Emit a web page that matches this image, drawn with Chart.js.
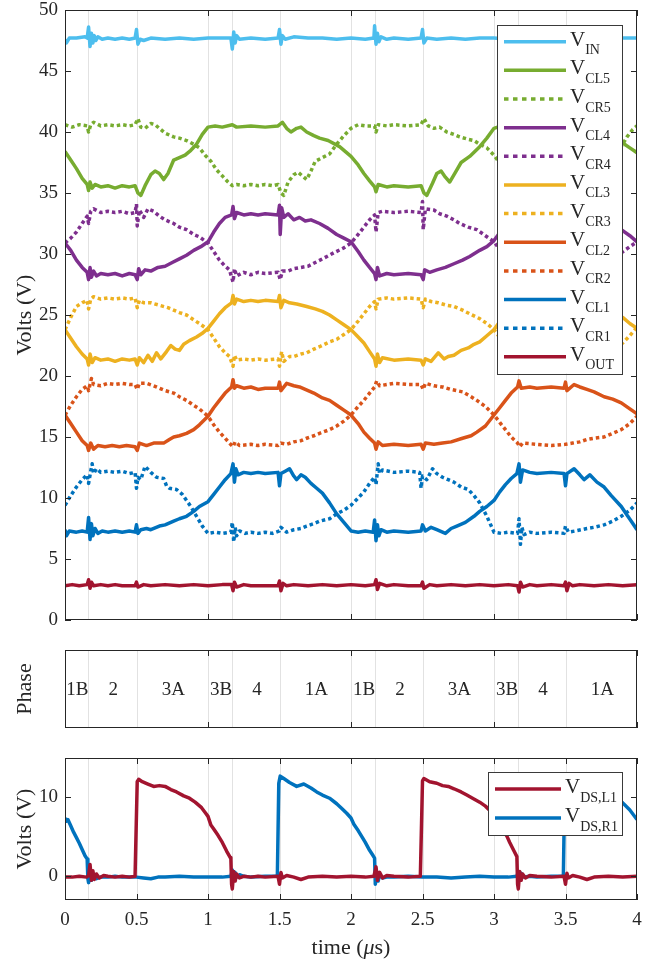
<!DOCTYPE html>
<html lang="en">
<head>
    <meta charset="UTF-8">
    <title>Capacitor voltages, phases and switch voltages</title>
    <style>
        body { margin: 0; background: #fff; }
        .wrap { position: relative; width: 645px; height: 959px; }
        .wrap canvas { position: absolute; left: 0; }
        #topChart { top: 0; }
        #phaseChart { top: 640px; }
        #dsChart { top: 750px; }
    </style>
    <script src="https://cdn.jsdelivr.net/npm/chart.js"></script>
</head>
<body>
<div class="wrap">
    <canvas id="topChart" width="645" height="640"></canvas>
    <canvas id="phaseChart" width="645" height="100"></canvas>
    <canvas id="dsChart" width="645" height="209"></canvas>
</div>
<script>
// ---- axes / phases ----
const timeTicks = [0, 0.5, 1, 1.5, 2, 2.5, 3, 3.5, 4];
const timeMajor = [0, 1, 2, 3, 4];
const voltTicks = [0, 5, 10, 15, 20, 25, 30, 35, 40, 45, 50];
const dsTicks = [0, 10];
const phaseEdges = [0, 0.16, 0.5, 1.0, 1.17, 1.5, 2.0, 2.17, 2.5, 3.0, 3.17, 3.5, 4];
const phaseNames = ['1B', '2', '3A', '3B', '4', '1A', '1B', '2', '3A', '3B', '4', '1A'];

// ---- traces, [time (us), volts] ----
const vIn = [[0,47.6],[0.01,47.3],[0.03,47.7],[0.08,47.7],[0.14,47.8],[0.155,47.7],[0.165,48.6],[0.175,47.0],[0.185,48.1],[0.195,47.3],[0.205,47.9],[0.215,47.5],[0.23,47.8],[0.26,47.6],[0.3,47.7],[0.35,47.6],[0.4,47.7],[0.45,47.6],[0.49,47.7],[0.5,48.4],[0.51,47.2],[0.525,47.6],[0.55,47.5],[0.6,47.7],[0.7,47.6],[0.8,47.7],[0.9,47.6],[1.0,47.7],[1.1,47.7],[1.16,47.7],[1.17,46.8],[1.18,48.2],[1.19,47.3],[1.2,47.9],[1.22,47.6],[1.3,47.7],[1.4,47.6],[1.49,47.7],[1.5,48.4],[1.51,47.2],[1.52,47.9],[1.54,47.6],[1.6,47.8],[1.7,47.7],[1.8,47.7],[1.9,47.6],[2.0,47.7],[2.1,47.6],[2.16,47.7],[2.165,48.7],[2.175,47.2],[2.185,48.1],[2.195,47.4],[2.21,47.8],[2.25,47.6],[2.3,47.7],[2.4,47.6],[2.49,47.7],[2.5,48.4],[2.51,47.3],[2.53,47.7],[2.6,47.6],[2.7,47.7],[2.8,47.6],[2.9,47.7],[3.0,47.7],[3.1,47.6],[3.16,47.7],[3.17,46.9],[3.18,48.2],[3.19,47.4],[3.21,47.7],[3.3,47.6],[3.4,47.7],[3.49,47.7],[3.5,48.3],[3.51,47.3],[3.53,47.8],[3.6,47.6],[3.7,47.7],[3.8,47.6],[3.9,47.7],[4.0,47.7]];

const vCL5 = [[0,38.4],[0.04,37.7],[0.08,37.0],[0.12,36.2],[0.155,35.7],[0.165,35.2],[0.175,35.9],[0.19,35.4],[0.21,35.7],[0.25,35.5],[0.3,35.6],[0.35,35.4],[0.4,35.6],[0.45,35.5],[0.49,35.6],[0.51,35.0],[0.53,34.8],[0.56,35.6],[0.6,36.5],[0.63,36.8],[0.66,36.6],[0.69,36.1],[0.72,36.6],[0.76,37.7],[0.8,37.9],[0.84,38.1],[0.88,38.5],[0.92,39.0],[0.96,39.8],[1.0,40.4],[1.05,40.5],[1.1,40.4],[1.17,40.6],[1.2,40.4],[1.3,40.5],[1.4,40.4],[1.49,40.5],[1.52,40.8],[1.55,40.3],[1.58,40.0],[1.62,40.3],[1.65,40.4],[1.69,40.0],[1.74,39.7],[1.78,39.5],[1.84,39.3],[1.92,38.8],[2.0,38.0],[2.05,37.3],[2.09,36.6],[2.13,36.0],[2.165,35.5],[2.175,35.1],[2.19,35.7],[2.25,35.5],[2.3,35.6],[2.4,35.5],[2.49,35.6],[2.51,35.0],[2.53,34.8],[2.57,35.8],[2.6,36.6],[2.63,36.8],[2.66,36.3],[2.69,35.9],[2.73,36.7],[2.77,37.5],[2.83,38.0],[2.9,38.8],[2.95,39.5],[3.0,40.3],[3.05,40.5],[3.1,40.5],[3.2,40.5],[3.3,40.4],[3.4,40.5],[3.5,40.6],[3.55,40.2],[3.6,40.2],[3.65,40.4],[3.7,40.0],[3.78,39.6],[3.85,39.3],[3.9,39.1],[3.95,38.7],[4.0,38.3]];
const vCR5 = [[0,40.6],[0.05,40.4],[0.1,40.6],[0.155,40.5],[0.165,40.0],[0.18,40.6],[0.2,40.8],[0.25,40.5],[0.3,40.6],[0.35,40.5],[0.4,40.6],[0.45,40.5],[0.49,40.6],[0.51,41.1],[0.53,40.4],[0.56,40.3],[0.6,40.7],[0.63,40.6],[0.66,40.3],[0.7,39.9],[0.76,39.6],[0.8,39.5],[0.85,39.3],[0.9,39.0],[0.94,38.7],[0.98,38.1],[1.02,37.6],[1.06,36.9],[1.1,36.4],[1.14,35.9],[1.17,35.6],[1.2,35.7],[1.25,35.6],[1.3,35.7],[1.35,35.6],[1.4,35.7],[1.45,35.6],[1.49,35.7],[1.51,35.0],[1.53,34.8],[1.56,35.9],[1.6,36.5],[1.63,36.7],[1.66,36.4],[1.69,36.1],[1.72,36.8],[1.75,37.6],[1.8,37.9],[1.85,38.2],[1.9,39.0],[1.95,39.7],[2.0,40.3],[2.05,40.6],[2.1,40.5],[2.165,40.5],[2.175,40.0],[2.19,40.6],[2.25,40.5],[2.3,40.6],[2.4,40.5],[2.49,40.6],[2.51,41.1],[2.54,40.5],[2.58,40.3],[2.62,40.4],[2.67,40.0],[2.72,39.8],[2.76,39.6],[2.82,39.4],[2.86,39.3],[2.9,39.0],[2.95,38.7],[3.0,38.1],[3.05,37.3],[3.1,36.6],[3.15,35.9],[3.17,35.6],[3.25,35.6],[3.35,35.7],[3.45,35.6],[3.5,35.5],[3.53,34.9],[3.57,35.9],[3.62,36.6],[3.67,36.2],[3.72,36.8],[3.77,37.6],[3.83,38.0],[3.88,38.6],[3.93,39.6],[3.97,40.2],[4.0,40.5]];

const vCL4 = [[0,30.9],[0.04,30.3],[0.08,29.5],[0.12,28.9],[0.155,28.5],[0.165,27.9],[0.175,28.9],[0.185,28.1],[0.2,28.6],[0.22,28.2],[0.25,28.4],[0.3,28.3],[0.35,28.4],[0.4,28.2],[0.45,28.4],[0.49,28.3],[0.505,27.9],[0.515,28.8],[0.53,28.3],[0.56,28.7],[0.6,28.6],[0.65,28.9],[0.7,29.0],[0.75,29.3],[0.8,29.6],[0.85,29.9],[0.9,30.3],[0.95,30.6],[1.0,31.0],[1.04,31.8],[1.08,32.5],[1.12,33.0],[1.165,33.2],[1.175,33.9],[1.185,32.9],[1.2,33.4],[1.25,33.2],[1.3,33.3],[1.35,33.2],[1.4,33.3],[1.49,33.2],[1.5,34.0],[1.505,31.6],[1.515,33.8],[1.53,33.0],[1.56,33.3],[1.6,32.8],[1.64,33.0],[1.68,32.7],[1.72,32.8],[1.78,32.5],[1.84,32.1],[1.9,31.6],[1.95,31.3],[2.0,31.0],[2.05,30.2],[2.09,29.5],[2.13,28.9],[2.165,28.4],[2.175,27.9],[2.185,28.9],[2.2,28.2],[2.25,28.4],[2.3,28.3],[2.4,28.4],[2.49,28.3],[2.505,27.9],[2.515,28.7],[2.55,28.5],[2.6,28.7],[2.66,28.9],[2.72,29.2],[2.78,29.5],[2.83,29.8],[2.9,30.3],[2.95,30.6],[3.0,31.1],[3.05,31.9],[3.1,32.6],[3.15,33.1],[3.2,33.3],[3.3,33.2],[3.4,33.3],[3.5,33.3],[3.55,33.0],[3.6,33.1],[3.7,32.8],[3.8,32.5],[3.89,32.0],[3.95,31.5],[4.0,31.0]];
const vCR4 = [[0,30.9],[0.04,31.3],[0.08,31.8],[0.12,32.5],[0.155,33.1],[0.165,32.5],[0.18,33.5],[0.2,33.7],[0.25,33.4],[0.3,33.5],[0.35,33.4],[0.4,33.5],[0.45,33.3],[0.49,33.4],[0.5,34.1],[0.505,32.3],[0.52,33.6],[0.55,33.0],[0.58,33.7],[0.62,33.5],[0.66,33.1],[0.7,32.8],[0.76,32.5],[0.8,32.2],[0.85,32.0],[0.9,31.6],[0.94,31.4],[1.0,30.9],[1.04,30.2],[1.08,29.5],[1.12,29.0],[1.15,28.7],[1.175,27.7],[1.185,28.8],[1.2,28.2],[1.25,28.5],[1.3,28.3],[1.35,28.5],[1.4,28.4],[1.49,28.5],[1.505,27.9],[1.52,28.6],[1.56,28.6],[1.6,28.8],[1.65,28.9],[1.7,29.0],[1.75,29.3],[1.8,29.6],[1.88,30.1],[1.95,30.5],[2.0,30.9],[2.05,31.6],[2.09,32.2],[2.13,32.8],[2.165,33.2],[2.175,31.8],[2.19,33.4],[2.22,33.5],[2.3,33.4],[2.4,33.5],[2.49,33.4],[2.5,34.3],[2.505,32.0],[2.52,33.7],[2.58,33.6],[2.62,33.3],[2.67,33.1],[2.72,32.8],[2.76,32.5],[2.82,32.2],[2.88,32.0],[2.94,31.5],[3.0,31.0],[3.05,30.2],[3.1,29.4],[3.15,28.8],[3.2,28.4],[3.3,28.5],[3.4,28.4],[3.5,28.5],[3.55,28.6],[3.65,28.9],[3.75,29.4],[3.85,29.9],[3.89,30.1],[3.95,30.6],[4.0,31.0]];

const vCL3 = [[0,23.8],[0.04,23.1],[0.08,22.4],[0.12,21.8],[0.155,21.4],[0.165,20.9],[0.175,21.8],[0.19,21.1],[0.21,21.5],[0.25,21.3],[0.3,21.4],[0.35,21.2],[0.4,21.4],[0.45,21.3],[0.49,21.4],[0.505,20.9],[0.52,21.5],[0.55,21.1],[0.58,21.7],[0.61,21.2],[0.64,21.9],[0.67,21.4],[0.71,22.0],[0.74,22.5],[0.77,22.2],[0.8,22.1],[0.83,22.6],[0.87,22.9],[0.92,23.2],[0.96,23.5],[1.0,23.9],[1.04,24.5],[1.08,25.1],[1.12,25.6],[1.165,26.0],[1.175,26.6],[1.185,25.9],[1.2,26.3],[1.25,26.1],[1.3,26.2],[1.35,26.1],[1.4,26.2],[1.49,26.1],[1.5,26.6],[1.51,25.6],[1.53,26.2],[1.57,26.0],[1.62,25.9],[1.69,25.7],[1.75,25.5],[1.8,25.3],[1.85,25.0],[1.9,24.6],[1.95,24.2],[2.0,23.8],[2.05,23.2],[2.09,22.7],[2.13,22.0],[2.165,21.4],[2.175,20.8],[2.185,21.8],[2.2,21.1],[2.22,21.5],[2.3,21.3],[2.4,21.4],[2.49,21.3],[2.505,20.9],[2.52,21.4],[2.56,21.2],[2.61,21.9],[2.65,21.4],[2.68,21.6],[2.72,21.7],[2.77,22.1],[2.82,22.3],[2.86,22.6],[2.9,22.8],[2.95,23.3],[3.0,23.8],[3.05,24.6],[3.1,25.3],[3.15,25.8],[3.2,26.2],[3.3,26.1],[3.4,26.2],[3.5,26.1],[3.6,26.0],[3.7,25.6],[3.8,25.2],[3.9,24.8],[3.95,24.3],[4.0,23.9]];
const vCR3 = [[0,23.8],[0.04,24.8],[0.08,25.7],[0.12,26.0],[0.155,26.2],[0.165,25.5],[0.18,26.3],[0.2,26.5],[0.25,26.3],[0.3,26.4],[0.35,26.3],[0.4,26.4],[0.45,26.3],[0.49,26.4],[0.505,25.6],[0.52,26.2],[0.55,26.0],[0.6,26.0],[0.66,25.8],[0.72,25.6],[0.76,25.4],[0.8,25.2],[0.85,25.0],[0.9,24.6],[0.94,24.3],[1.0,23.8],[1.04,23.1],[1.08,22.4],[1.12,21.9],[1.15,21.6],[1.175,20.8],[1.185,21.7],[1.2,21.3],[1.25,21.4],[1.3,21.3],[1.35,21.4],[1.4,21.3],[1.49,21.4],[1.5,20.8],[1.515,22.0],[1.53,21.2],[1.57,21.6],[1.6,21.6],[1.65,21.8],[1.69,21.9],[1.74,22.2],[1.78,22.4],[1.85,22.8],[1.9,23.0],[1.95,23.4],[2.0,23.8],[2.05,24.5],[2.09,25.1],[2.13,25.7],[2.165,26.1],[2.175,25.5],[2.19,26.3],[2.25,26.4],[2.3,26.3],[2.4,26.4],[2.49,26.3],[2.505,25.6],[2.52,26.3],[2.56,26.1],[2.61,26.0],[2.67,25.8],[2.72,25.7],[2.78,25.4],[2.83,25.1],[2.9,24.7],[2.95,24.3],[3.0,23.8],[3.05,23.0],[3.1,22.3],[3.15,21.7],[3.2,21.3],[3.3,21.4],[3.4,21.3],[3.5,21.4],[3.55,21.5],[3.65,21.8],[3.75,22.2],[3.85,22.5],[3.9,22.7],[3.95,23.3],[4.0,24.0]];

const vCL2 = [[0,16.8],[0.04,16.1],[0.08,15.4],[0.12,14.7],[0.155,14.3],[0.165,13.9],[0.18,14.5],[0.2,14.0],[0.23,14.3],[0.28,14.2],[0.33,14.3],[0.38,14.2],[0.43,14.3],[0.49,14.2],[0.505,13.9],[0.52,14.5],[0.57,14.3],[0.62,14.5],[0.69,14.5],[0.73,14.8],[0.76,15.0],[0.8,15.1],[0.85,15.3],[0.9,15.6],[0.94,16.0],[1.0,16.7],[1.04,17.4],[1.08,18.0],[1.12,18.6],[1.165,19.1],[1.175,19.7],[1.185,19.0],[1.2,19.2],[1.25,19.0],[1.3,19.1],[1.35,18.9],[1.4,19.0],[1.49,19.0],[1.5,19.5],[1.51,18.8],[1.55,19.4],[1.6,19.2],[1.64,19.1],[1.7,18.8],[1.74,18.6],[1.8,18.2],[1.85,18.0],[1.9,17.6],[1.95,17.2],[2.0,16.8],[2.05,16.1],[2.09,15.4],[2.13,14.9],[2.165,14.5],[2.175,14.0],[2.19,14.6],[2.22,14.3],[2.3,14.4],[2.4,14.3],[2.49,14.4],[2.505,14.0],[2.52,14.5],[2.58,14.4],[2.64,14.5],[2.7,14.6],[2.78,14.9],[2.84,15.1],[2.88,15.4],[2.94,15.9],[3.0,16.8],[3.04,17.4],[3.08,18.0],[3.12,18.6],[3.165,19.1],[3.175,19.6],[3.19,19.0],[3.25,19.1],[3.3,19.0],[3.4,19.1],[3.49,19.0],[3.5,19.5],[3.51,18.8],[3.56,19.3],[3.6,19.1],[3.65,18.9],[3.7,18.7],[3.77,18.3],[3.83,18.1],[3.89,17.8],[3.95,17.3],[4.0,16.9]];
const vCR2 = [[0,16.8],[0.04,17.6],[0.08,18.3],[0.12,18.9],[0.155,19.2],[0.165,18.8],[0.185,19.8],[0.2,19.3],[0.25,19.2],[0.3,19.4],[0.35,19.3],[0.4,19.4],[0.45,19.3],[0.49,19.3],[0.505,18.9],[0.52,19.4],[0.57,19.4],[0.62,19.2],[0.66,19.0],[0.7,18.8],[0.76,18.6],[0.8,18.3],[0.85,18.0],[0.9,17.6],[0.94,17.3],[1.0,16.7],[1.04,16.0],[1.08,15.4],[1.12,14.9],[1.15,14.5],[1.175,14.2],[1.19,14.6],[1.22,14.3],[1.3,14.4],[1.35,14.3],[1.4,14.4],[1.49,14.3],[1.51,14.5],[1.55,14.4],[1.6,14.6],[1.65,14.7],[1.69,14.9],[1.74,15.1],[1.78,15.3],[1.85,15.6],[1.9,15.9],[1.95,16.3],[2.0,16.8],[2.05,17.5],[2.09,18.0],[2.13,18.6],[2.165,19.1],[2.18,19.6],[2.2,19.2],[2.25,19.3],[2.3,19.4],[2.4,19.3],[2.49,19.3],[2.505,18.9],[2.52,19.4],[2.58,19.2],[2.64,19.1],[2.7,18.9],[2.78,18.7],[2.84,18.3],[2.88,18.0],[2.94,17.5],[3.0,16.8],[3.04,16.2],[3.08,15.6],[3.12,15.0],[3.165,14.5],[3.18,14.2],[3.2,14.5],[3.3,14.4],[3.4,14.3],[3.5,14.4],[3.55,14.5],[3.6,14.6],[3.65,14.8],[3.7,14.9],[3.77,15.0],[3.83,15.3],[3.89,15.6],[3.95,16.1],[4.0,16.7]];

const vCL1 = [[0,7.4],[0.01,6.9],[0.03,7.3],[0.08,7.2],[0.12,7.3],[0.155,7.2],[0.165,8.4],[0.175,6.6],[0.185,7.9],[0.195,6.9],[0.21,7.5],[0.23,7.1],[0.26,7.3],[0.3,7.2],[0.35,7.3],[0.4,7.2],[0.45,7.3],[0.49,7.2],[0.5,7.8],[0.51,7.1],[0.53,7.4],[0.57,7.5],[0.6,7.4],[0.66,7.7],[0.7,7.8],[0.76,8.1],[0.8,8.3],[0.85,8.5],[0.9,8.9],[0.94,9.3],[1.0,9.7],[1.04,10.3],[1.08,10.9],[1.12,11.5],[1.16,12.0],[1.175,12.8],[1.185,11.3],[1.195,12.4],[1.21,11.9],[1.25,12.1],[1.3,12.0],[1.35,12.1],[1.4,12.0],[1.49,12.1],[1.5,11.0],[1.51,12.0],[1.54,12.2],[1.57,12.4],[1.6,11.8],[1.62,11.5],[1.65,11.9],[1.68,11.7],[1.72,11.2],[1.76,10.8],[1.8,10.4],[1.85,9.6],[1.9,8.7],[1.95,8.0],[2.0,7.3],[2.05,7.2],[2.1,7.3],[2.155,7.2],[2.165,8.2],[2.175,6.5],[2.185,7.8],[2.195,6.9],[2.21,7.4],[2.25,7.2],[2.3,7.3],[2.4,7.2],[2.49,7.3],[2.5,7.8],[2.52,7.3],[2.56,7.6],[2.6,7.4],[2.66,7.1],[2.7,7.5],[2.74,7.7],[2.8,8.0],[2.86,8.5],[2.9,8.9],[2.95,9.3],[3.0,9.8],[3.04,10.5],[3.08,11.1],[3.12,11.6],[3.16,12.0],[3.175,12.8],[3.185,11.3],[3.2,12.3],[3.25,12.1],[3.3,12.0],[3.4,12.1],[3.49,12.0],[3.5,11.0],[3.51,12.0],[3.56,12.4],[3.6,11.9],[3.63,11.5],[3.67,11.9],[3.72,11.3],[3.77,10.9],[3.82,10.2],[3.89,9.3],[3.93,8.6],[3.96,8.1],[4.0,7.4]];
const vCR1 = [[0,9.4],[0.04,10.2],[0.08,10.9],[0.12,11.5],[0.155,11.9],[0.165,11.2],[0.18,12.2],[0.19,12.8],[0.2,12.0],[0.22,12.4],[0.25,12.1],[0.3,12.2],[0.35,12.1],[0.4,12.2],[0.45,12.0],[0.49,12.1],[0.5,10.8],[0.51,11.7],[0.53,11.5],[0.56,12.6],[0.6,12.1],[0.64,11.7],[0.69,11.6],[0.71,11.0],[0.73,10.8],[0.78,10.7],[0.82,10.3],[0.85,9.8],[0.88,9.3],[0.92,8.5],[0.96,7.7],[1.0,7.1],[1.05,7.2],[1.1,7.1],[1.16,7.2],[1.17,8.0],[1.18,6.4],[1.19,7.6],[1.2,6.9],[1.22,7.3],[1.26,7.1],[1.3,7.2],[1.35,7.1],[1.4,7.2],[1.45,7.1],[1.5,7.3],[1.51,7.6],[1.55,7.2],[1.6,7.4],[1.65,7.5],[1.69,7.7],[1.74,7.9],[1.78,8.1],[1.85,8.3],[1.9,8.7],[1.95,9.0],[2.0,9.4],[2.05,10.0],[2.09,10.5],[2.13,11.2],[2.165,11.7],[2.175,11.1],[2.19,12.8],[2.2,12.0],[2.22,12.3],[2.3,12.1],[2.4,12.2],[2.48,12.1],[2.49,10.8],[2.5,11.8],[2.53,11.5],[2.57,12.4],[2.6,12.0],[2.64,11.7],[2.68,11.5],[2.72,11.3],[2.77,10.9],[2.82,10.7],[2.86,10.2],[2.9,9.6],[2.95,8.5],[3.0,7.2],[3.05,7.1],[3.1,7.2],[3.165,7.1],[3.175,8.3],[3.185,6.2],[3.195,7.6],[3.21,7.0],[3.25,7.2],[3.3,7.1],[3.4,7.2],[3.49,7.1],[3.5,7.7],[3.52,7.2],[3.57,7.3],[3.65,7.5],[3.7,7.6],[3.77,7.8],[3.83,8.1],[3.89,8.5],[3.95,9.0],[4.0,9.6]];

const vOut = [[0,2.8],[0.05,2.9],[0.1,2.8],[0.155,2.9],[0.165,3.3],[0.175,2.6],[0.185,3.1],[0.2,2.8],[0.25,2.9],[0.3,2.8],[0.35,2.9],[0.4,2.8],[0.49,2.8],[0.5,3.1],[0.51,2.7],[0.55,2.9],[0.6,2.8],[0.7,2.9],[0.8,2.8],[0.9,2.9],[1.0,2.8],[1.1,2.9],[1.165,2.9],[1.175,2.4],[1.185,3.1],[1.2,2.7],[1.25,2.9],[1.3,2.8],[1.4,2.8],[1.49,2.8],[1.5,3.2],[1.51,2.4],[1.525,3.0],[1.55,2.8],[1.6,2.9],[1.7,2.8],[1.8,2.9],[1.9,2.8],[2.0,2.9],[2.1,2.8],[2.165,2.9],[2.175,3.3],[2.185,2.5],[2.2,3.0],[2.25,2.8],[2.3,2.9],[2.4,2.8],[2.49,2.8],[2.5,3.1],[2.51,2.6],[2.55,2.9],[2.6,2.8],[2.7,2.9],[2.8,2.8],[2.9,2.9],[3.0,2.8],[3.1,2.9],[3.165,2.8],[3.175,2.3],[3.185,3.1],[3.2,2.7],[3.25,2.9],[3.3,2.8],[3.4,2.9],[3.49,2.8],[3.5,3.1],[3.51,2.4],[3.525,3.0],[3.55,2.8],[3.6,2.9],[3.7,2.8],[3.8,2.9],[3.9,2.8],[4.0,2.9]];

const vDsL1 = [[0,-0.1],[0.05,-0.1],[0.1,0.0],[0.15,-0.1],[0.165,0.1],[0.175,1.5],[0.185,-0.5],[0.195,0.7],[0.205,-0.4],[0.22,0.3],[0.24,-0.2],[0.27,0.1],[0.3,0.0],[0.35,-0.1],[0.4,0.0],[0.45,-0.1],[0.49,0.0],[0.505,12.0],[0.515,12.3],[0.54,12.0],[0.58,11.7],[0.62,11.4],[0.66,11.5],[0.7,11.4],[0.74,11.0],[0.78,10.7],[0.83,10.2],[0.87,9.9],[0.91,9.4],[0.955,8.7],[0.98,8.1],[1.0,7.6],[1.02,6.5],[1.04,6.0],[1.07,5.2],[1.1,4.3],[1.13,3.2],[1.155,2.4],[1.16,2.2],[1.165,-1.0],[1.17,-1.6],[1.18,0.6],[1.19,-0.6],[1.2,0.3],[1.22,-0.2],[1.25,0.0],[1.3,-0.1],[1.35,0.0],[1.4,-0.1],[1.49,0.0],[1.5,-1.0],[1.51,0.5],[1.52,-0.2],[1.55,0.1],[1.6,-0.1],[1.65,-0.4],[1.7,-0.1],[1.8,0.0],[1.9,-0.1],[2.0,0.0],[2.1,-0.1],[2.16,0.0],[2.175,1.2],[2.185,-0.5],[2.2,0.5],[2.22,-0.2],[2.25,0.1],[2.3,0.0],[2.4,-0.1],[2.485,0.0],[2.5,12.1],[2.51,12.4],[2.55,12.0],[2.6,11.8],[2.64,11.5],[2.68,11.4],[2.72,11.1],[2.77,10.7],[2.81,10.3],[2.85,9.9],[2.9,9.4],[2.94,8.9],[2.98,8.2],[3.01,7.6],[3.04,6.6],[3.06,6.0],[3.09,5.1],[3.11,4.3],[3.14,3.2],[3.16,2.5],[3.165,-1.0],[3.17,-1.6],[3.18,0.6],[3.19,-0.5],[3.2,0.3],[3.22,-0.2],[3.25,0.1],[3.3,0.0],[3.4,-0.1],[3.49,0.0],[3.5,-1.0],[3.51,0.4],[3.52,-0.2],[3.55,0.1],[3.6,-0.1],[3.65,-0.4],[3.7,-0.1],[3.8,0.0],[3.9,-0.1],[4.0,0.0]];
const vDsR1 = [[0,7.4],[0.01,7.0],[0.02,7.2],[0.04,6.4],[0.06,5.6],[0.08,4.9],[0.1,4.2],[0.12,3.4],[0.14,2.6],[0.155,2.2],[0.16,-0.3],[0.165,-0.8],[0.175,0.3],[0.185,-0.5],[0.2,0.1],[0.22,-0.3],[0.25,-0.1],[0.3,-0.1],[0.35,0.0],[0.4,-0.1],[0.45,-0.1],[0.5,-0.1],[0.55,-0.2],[0.6,-0.3],[0.65,-0.1],[0.7,-0.1],[0.8,0.0],[0.9,-0.1],[1.0,-0.1],[1.1,-0.1],[1.16,0.0],[1.17,0.8],[1.18,-0.3],[1.19,0.5],[1.2,-0.1],[1.22,0.2],[1.25,0.0],[1.3,-0.1],[1.4,0.0],[1.485,0.0],[1.495,11.8],[1.505,12.7],[1.53,12.4],[1.57,11.9],[1.62,11.4],[1.67,11.7],[1.72,11.2],[1.76,10.7],[1.8,10.3],[1.85,9.9],[1.9,9.2],[1.93,8.7],[1.97,8.0],[2.0,7.4],[2.02,6.6],[2.05,5.8],[2.08,4.9],[2.1,4.3],[2.13,3.3],[2.155,2.6],[2.165,2.3],[2.17,-1.0],[2.18,0.4],[2.19,-0.6],[2.2,0.2],[2.22,-0.2],[2.25,-0.1],[2.3,-0.1],[2.4,0.0],[2.5,-0.1],[2.6,-0.1],[2.7,-0.2],[2.8,-0.1],[2.9,0.0],[3.0,-0.1],[3.1,-0.1],[3.16,0.0],[3.17,0.6],[3.18,-0.3],[3.19,0.4],[3.2,-0.1],[3.25,0.0],[3.3,-0.1],[3.4,0.0],[3.485,0.0],[3.495,11.9],[3.505,12.6],[3.55,12.2],[3.6,11.8],[3.65,11.6],[3.7,11.4],[3.75,10.9],[3.8,10.5],[3.85,10.0],[3.89,9.5],[3.95,8.4],[4.0,7.2]];

// ---- look ----
const AXIS = '#262626';
const SERIF = "'Liberation Serif', 'Times New Roman', serif";
Chart.defaults.font.family = SERIF;
Chart.defaults.color = AXIS;

const C = {
    in: '#4DBEEE', c5: '#77AC30', c4: '#7E2F8E', c3: '#EDB120',
    c2: '#D95319', c1: '#0072BD', out: '#A2142F'
};
const DOT = [3.5, 3];

function trace(name, sub, pts, color, dotted) {
    return {
        label: name + sub,
        sub: sub,
        data: pts.map(([x, y]) => ({ x, y })),
        borderColor: color,
        backgroundColor: color,
        borderWidth: 3.5,
        borderDash: dotted ? DOT : [],
        borderJoinStyle: 'round',
        pointRadius: 0,
        tension: 0
    };
}

// phase boundaries as light vertical lines, box + inward ticks
const framePlugin = {
    id: 'frame',
    beforeDatasetsDraw(chart) {
        const { ctx, chartArea: a, scales: { x } } = chart;
        ctx.save();
        ctx.strokeStyle = '#e2e2e2';
        ctx.lineWidth = 1;
        ctx.beginPath();
        phaseEdges.slice(1, -1).forEach(t => {
            const px = Math.round(x.getPixelForValue(t)) + 0.5;
            ctx.moveTo(px, a.top);
            ctx.lineTo(px, a.bottom);
        });
        ctx.stroke();
        ctx.restore();
    },
    afterDatasetsDraw(chart, args, opts) {
        const { ctx, chartArea: a, scales: { x, y } } = chart;
        const len = 6;
        ctx.save();
        ctx.strokeStyle = AXIS;
        ctx.lineWidth = 1;
        ctx.beginPath();
        (opts.xTicks || []).forEach(t => {
            const px = Math.round(x.getPixelForValue(t)) + 0.5;
            ctx.moveTo(px, a.bottom); ctx.lineTo(px, a.bottom - len);
            ctx.moveTo(px, a.top); ctx.lineTo(px, a.top + len);
        });
        (opts.yTicks || []).forEach(v => {
            const py = Math.round(y.getPixelForValue(v)) + 0.5;
            ctx.moveTo(a.left, py); ctx.lineTo(a.left + len, py);
            ctx.moveTo(a.right, py); ctx.lineTo(a.right - len, py);
        });
        ctx.stroke();
        ctx.strokeRect(Math.round(a.left) + 0.5, Math.round(a.top) + 0.5,
            Math.round(a.width) - 1, Math.round(a.height) - 1);

        if (opts.phases) {
            ctx.fillStyle = AXIS;
            ctx.font = '19px ' + SERIF;
            ctx.textAlign = 'center';
            ctx.textBaseline = 'middle';
            const cy = (a.top + a.bottom) / 2 + 1;
            phaseNames.forEach((n, i) => {
                const cx = x.getPixelForValue((phaseEdges[i] + phaseEdges[i + 1]) / 2);
                ctx.fillText(n, cx + 1, cy);
            });
        }
        if (opts.timeTitle) {
            // "time (μs)" with an italic mu
            const parts = [['time (', ''], ['μ', 'italic '], ['s)', '']];
            let w = 0;
            parts.forEach(p => { ctx.font = p[1] + '22px ' + SERIF; w += ctx.measureText(p[0]).width; });
            let px = (a.left + a.right) / 2 - w / 2;
            ctx.fillStyle = AXIS;
            ctx.textAlign = 'left';
            ctx.textBaseline = 'alphabetic';
            parts.forEach(p => {
                ctx.font = p[1] + '22px ' + SERIF;
                ctx.fillText(p[0], px, opts.timeTitle);
                px += ctx.measureText(p[0]).width;
            });
        }
        ctx.restore();
    }
};

// legend with subscripts, drawn inside the plot area
const legendPlugin = {
    id: 'subLegend',
    afterDraw(chart, args, o) {
        if (!o.width) return;
        const { ctx, chartArea: a } = chart;
        const left = a.right - o.right - o.width;
        const top = a.top + o.top;
        const h = o.padY * 2 + o.rowH * (chart.data.datasets.length - 1);
        ctx.save();
        ctx.fillStyle = '#fff';
        ctx.fillRect(left, top, o.width, h);
        ctx.strokeStyle = '#3a3a3a';
        ctx.lineWidth = 1;
        ctx.strokeRect(Math.round(left) + 0.5, Math.round(top) + 0.5, Math.round(o.width), Math.round(h));
        chart.data.datasets.forEach((ds, i) => {
            const cy = top + o.padY + i * o.rowH;
            ctx.strokeStyle = ds.borderColor;
            ctx.lineWidth = 3.5;
            ctx.setLineDash(ds.borderDash.length ? [4.5, 4.5] : []);
            ctx.beginPath();
            ctx.moveTo(left + 7, cy);
            ctx.lineTo(left + 7 + o.lineLen, cy);
            ctx.stroke();
            ctx.setLineDash([]);
            ctx.fillStyle = AXIS;
            ctx.textBaseline = 'alphabetic';
            ctx.font = '21px ' + SERIF;
            const tx = left + 7 + o.lineLen + 4;
            ctx.fillText('V', tx, cy + 4);
            const vw = ctx.measureText('V').width;
            ctx.font = '14px ' + SERIF;
            ctx.fillText(ds.sub, tx + vw, cy + 12.5);
        });
        ctx.restore();
    }
};

function yAxis(min, max, ticks, title, showLabels) {
    return {
        type: 'linear', min, max,
        afterBuildTicks: s => { s.ticks = ticks.map(v => ({ value: v })); },
        afterFit: s => { s.width = 65; s.paddingTop = 0; s.paddingBottom = 0; },
        grid: { display: false, drawTicks: false },
        border: { display: false },
        ticks: { display: showLabels, padding: 7, font: { size: 19 }, color: AXIS, callback: v => String(v) },
        title: { display: true, text: title, font: { size: 22 }, color: AXIS, padding: { top: 12, bottom: 0 } }
    };
}

function baseOptions() {
    return {
        responsive: false,
        animation: false,
        devicePixelRatio: 1,
        events: [],
        plugins: { legend: { display: false }, tooltip: { enabled: false } }
    };
}

// ---- top: capacitor voltages ----
const topOpts = baseOptions();
topOpts.layout = { padding: { top: 10, right: 8, bottom: 20, left: 0 } };
topOpts.scales = {
    x: { type: 'linear', min: 0, max: 4, display: false },
    y: yAxis(0, 50, voltTicks, 'Volts (V)', true)
};
topOpts.plugins.frame = { xTicks: timeMajor, yTicks: voltTicks };
topOpts.plugins.subLegend = { right: 15, top: 15, width: 125, rowH: 28.65, padY: 16.7, lineLen: 62 };

new Chart(document.getElementById('topChart'), {
    type: 'line',
    data: {
        datasets: [
            trace('V', 'IN', vIn, C.in, false),
            trace('V', 'CL5', vCL5, C.c5, false),
            trace('V', 'CR5', vCR5, C.c5, true),
            trace('V', 'CL4', vCL4, C.c4, false),
            trace('V', 'CR4', vCR4, C.c4, true),
            trace('V', 'CL3', vCL3, C.c3, false),
            trace('V', 'CR3', vCR3, C.c3, true),
            trace('V', 'CL2', vCL2, C.c2, false),
            trace('V', 'CR2', vCR2, C.c2, true),
            trace('V', 'CL1', vCL1, C.c1, false),
            trace('V', 'CR1', vCR1, C.c1, true),
            trace('V', 'OUT', vOut, C.out, false)
        ]
    },
    options: topOpts,
    plugins: [framePlugin, legendPlugin]
});

// ---- middle: phase strip ----
const phaseOpts = baseOptions();
phaseOpts.layout = { padding: { top: 10, right: 8, bottom: 12, left: 0 } };
phaseOpts.scales = {
    x: { type: 'linear', min: 0, max: 4, display: false },
    y: yAxis(0, 1, [], 'Phase', false)
};
phaseOpts.plugins.frame = { xTicks: timeMajor, yTicks: [], phases: true };

new Chart(document.getElementById('phaseChart'), {
    type: 'line',
    data: { datasets: [] },
    options: phaseOpts,
    plugins: [framePlugin]
});

// ---- bottom: drain-source voltages ----
const dsOpts = baseOptions();
dsOpts.layout = { padding: { top: 8, right: 8, bottom: 0, left: 0 } };
dsOpts.scales = {
    x: {
        type: 'linear', min: 0, max: 4,
        afterBuildTicks: s => { s.ticks = timeTicks.map(v => ({ value: v })); },
        afterFit: s => { s.height = 59; s.paddingLeft = 0; s.paddingRight = 0; },
        grid: { display: false, drawTicks: false },
        border: { display: false },
        ticks: { padding: 9, font: { size: 19 }, color: AXIS, maxRotation: 0, autoSkip: false, callback: v => String(v) }
    },
    y: yAxis(-3, 15, dsTicks, 'Volts (V)', true)
};
dsOpts.plugins.frame = { xTicks: timeTicks, yTicks: dsTicks, timeTitle: 204 };
dsOpts.plugins.subLegend = { right: 15, top: 14, width: 134, rowH: 29, padY: 17, lineLen: 66 };

new Chart(document.getElementById('dsChart'), {
    type: 'line',
    data: {
        datasets: [
            trace('V', 'DS,L1', vDsL1, C.out, false),
            trace('V', 'DS,R1', vDsR1, C.c1, false)
        ]
    },
    options: dsOpts,
    plugins: [framePlugin, legendPlugin]
});
</script>
</body>
</html>
